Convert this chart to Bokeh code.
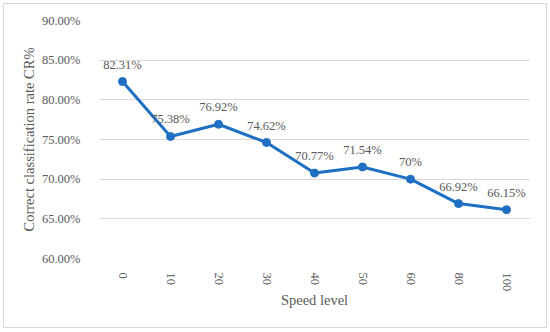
import math
from bokeh.plotting import figure
from bokeh.models import ColumnDataSource, FactorRange, Range1d, LabelSet, PrintfTickFormatter, FixedTicker, InlineStyleSheet
from bokeh.embed import file_html
from bokeh.resources import INLINE

speed_levels = ["0", "10", "20", "30", "40", "50", "60", "80", "100"]
cr_values = [82.31, 75.38, 76.92, 74.62, 70.77, 71.54, 70.0, 66.92, 66.15]
cr_labels = ["82.31%", "75.38%", "76.92%", "74.62%", "70.77%", "71.54%", "70%", "66.92%", "66.15%"]
y_ticks = [60, 65, 70, 75, 80, 85, 90]

FONT = "Liberation Serif"
TXT = "#595959"
BLUE = "#1f6fc2"

src = ColumnDataSource(dict(x=speed_levels, y=cr_values, lab=cr_labels))

border_css = InlineStyleSheet(css="""
:host::after {
  content: "";
  position: absolute;
  left: 3px; top: 3px; right: 3px; bottom: 4px;
  border: 1px solid #d9d9d9;
  pointer-events: none;
  z-index: 100;
}
""")

p = figure(width=550, height=332, x_range=FactorRange(*speed_levels), y_range=Range1d(60, 90),
           output_backend="svg", toolbar_location=None,
           min_border_left=98, min_border_right=20, min_border_top=20, min_border_bottom=74,
           stylesheets=[border_css])
p.outline_line_color = None
p.background_fill_color = "white"
p.border_fill_color = "white"

p.line("x", "y", source=src, line_color=BLUE, line_width=3)
p.scatter("x", "y", source=src, size=8, fill_color=BLUE, line_color=BLUE)

labels = LabelSet(x="x", y="y", text="lab", source=src, y_offset=17, text_align="center",
                  text_baseline="middle", text_font=FONT, text_font_size="12.5px", text_color=TXT)
p.add_layout(labels)

p.yaxis.ticker = FixedTicker(ticks=y_ticks)
p.yaxis.formatter = PrintfTickFormatter(format="%.2f%%")
p.ygrid.grid_line_color = "#d9d9d9"
p.ygrid.grid_line_width = 1
p.xgrid.grid_line_color = None

for ax in (p.xaxis, p.yaxis):
    ax.axis_line_color = None
    ax.major_tick_line_color = None
    ax.minor_tick_line_color = None
    ax.major_label_text_font = FONT
    ax.major_label_text_font_size = "12.5px"
    ax.major_label_text_color = TXT
    ax.axis_label_text_font = FONT
    ax.axis_label_text_font_size = "14.5px"
    ax.axis_label_text_color = TXT
    ax.axis_label_text_font_style = "normal"

p.yaxis.major_label_standoff = 12
p.xaxis.major_label_standoff = 8
p.xaxis.major_label_orientation = -math.pi / 2
p.xaxis.axis_label = "Speed level"
p.yaxis.axis_label = "Correct classification rate CR%"
p.yaxis.axis_label_standoff = 2
p.xaxis.axis_label_standoff = -2

open("out.html", "w").write(file_html(p, INLINE))
